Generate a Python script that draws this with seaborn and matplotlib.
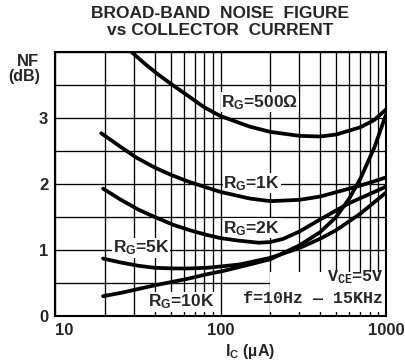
import numpy as np
import pandas as pd
import matplotlib
matplotlib.use("Agg")
import matplotlib.pyplot as plt
import seaborn as sns
from matplotlib.ticker import LogLocator, MultipleLocator, FixedLocator, NullFormatter
from matplotlib.patches import Rectangle

# Noise figure curves (Ic in uA, NF in dB)
ic_500 = [29, 35, 41, 50, 65, 80, 100, 150, 200, 300, 400, 500, 700, 850, 1000]
nf_500 = [4.0, 3.82, 3.68, 3.52, 3.32, 3.16, 3.03, 2.87, 2.79, 2.73, 2.72, 2.75, 2.86, 2.97, 3.13]

ic_1k = [19, 25, 31, 40, 50, 65, 100, 150, 200, 300, 400, 600, 800, 1000]
nf_1k = [2.77, 2.56, 2.40, 2.25, 2.14, 2.03, 1.88, 1.78, 1.74, 1.76, 1.81, 1.93, 2.02, 2.10]

ic_2k = [19.5, 25, 32, 40, 52, 65, 82, 100, 130, 170, 200, 240, 300, 380, 500, 600, 800, 1000]
nf_2k = [1.93, 1.76, 1.61, 1.50, 1.38, 1.30, 1.23, 1.18, 1.14, 1.11, 1.12, 1.17, 1.28, 1.43, 1.60, 1.71, 1.85, 1.96]

ic_5k = [19.5, 25, 32, 40, 52, 65, 83, 100, 130, 200, 300, 400, 500, 700, 1000]
nf_5k = [0.87, 0.81, 0.76, 0.73, 0.72, 0.72, 0.73, 0.75, 0.78, 0.88, 1.03, 1.17, 1.30, 1.55, 1.87]

ic_10k = [19.5, 25, 32, 41, 52, 65, 82, 103, 150, 200, 300, 400, 500, 600, 700, 850, 1000]
nf_10k = [0.30, 0.35, 0.41, 0.47, 0.52, 0.57, 0.63, 0.68, 0.78, 0.86, 1.07, 1.27, 1.50, 1.78, 2.08, 2.55, 3.05]

curve_names = ["500", "1K", "2K", "5K", "10K"]
curve_ic = [ic_500, ic_1k, ic_2k, ic_5k, ic_10k]
curve_nf = [nf_500, nf_1k, nf_2k, nf_5k, nf_10k]

y_ticks = [0, 1, 2, 3]
x_ticks = [10, 100, 1000]
x_tick_labels = ["10", "100", "1000"]

frames = []
for name, ic, nf in zip(curve_names, curve_ic, curve_nf):
    frames.append(pd.DataFrame({"ic": ic, "nf": nf, "rg": name}))
df = pd.concat(frames, ignore_index=True)

sns.set_style("white")
plt.rcParams["font.family"] = ["Liberation Sans", "DejaVu Sans"]
plt.rcParams["font.weight"] = "bold"
plt.rcParams["mathtext.fontset"] = "custom"
plt.rcParams["mathtext.rm"] = "Liberation Sans:bold"
plt.rcParams["mathtext.it"] = "Liberation Sans:bold"
plt.rcParams["mathtext.bf"] = "Liberation Sans:bold"
plt.rcParams["mathtext.tt"] = "Liberation Mono:bold"

fig = plt.figure(figsize=(4.05, 3.64), dpi=100)
ax = fig.add_axes([0.136, 0.132, 0.817, 0.725])

sns.lineplot(data=df, x="ic", y="nf", hue="rg", units="rg", estimator=None,
             palette=["black"] * 5, legend=False, linewidth=2.7, ax=ax,
             zorder=3, clip_on=True)

ax.set_xscale("log")
ax.set_xlim(10, 1000)
ax.set_ylim(0, 4)

ax.xaxis.set_major_locator(FixedLocator(x_ticks))
ax.set_xticklabels(x_tick_labels)
ax.xaxis.set_minor_locator(LogLocator(base=10, subs=np.arange(2, 10)))
ax.xaxis.set_minor_formatter(NullFormatter())
ax.set_yticks(y_ticks)
ax.yaxis.set_minor_locator(MultipleLocator(0.5))

ax.set_axisbelow(True)
ax.grid(which="both", color="black", linewidth=0.95)
ax.tick_params(which="both", length=0)
ax.tick_params(axis="x", pad=5, labelsize=12)
ax.tick_params(axis="y", pad=5, labelsize=12)
ax.get_xticklabels()[0].set_ha("left")
for s in ax.spines.values():
    s.set_linewidth(1.5)
    s.set_color("black")
ax.set_xlabel("")
ax.set_ylabel("")

# blank area behind the test conditions
ax.add_patch(Rectangle((200, 0.06), 800, 0.6, facecolor="white",
                       edgecolor="none", zorder=1.5))

box = dict(facecolor="white", edgecolor="none", pad=0.5)
lab_kw = dict(fontsize=12.5, va="center", ha="left", bbox=box, zorder=2)
ax.text(101, 3.24, r"R$_\mathrm{G}$=500Ω", **lab_kw)
ax.text(104, 2.01, r"R$_\mathrm{G}$=1K", **lab_kw)
ax.text(104, 1.33, r"R$_\mathrm{G}$=2K", **lab_kw)
ax.text(22.4, 1.03, r"R$_\mathrm{G}$=5K", **lab_kw)
ax.text(36.5, 0.21, r"R$_\mathrm{G}$=10K", **lab_kw)

ax.text(960, 0.59, r"V$_\mathtt{CE}$=5V", fontsize=12, family="Liberation Mono",
        va="center", ha="right", zorder=2)
ax.text(960, 0.27, "f=10Hz — 15KHz", fontsize=12, family="Liberation Mono",
        va="center", ha="right", zorder=2)

fig.text(0.543, 0.962, "BROAD-BAND  NOISE  FIGURE", ha="center", va="center", fontsize=12.5)
fig.text(0.543, 0.915, "vs COLLECTOR  CURRENT", ha="center", va="center", fontsize=12.5)
fig.text(0.07, 0.83, "NF", ha="center", va="center", fontsize=12)
fig.text(0.06, 0.79, "(dB)", ha="center", va="center", fontsize=11.5)
fig.text(0.617, 0.033, r"I$_\mathrm{C}$ (µA)", ha="center", va="center", fontsize=11.5)

fig.savefig("out.png", dpi=100, facecolor="white")
